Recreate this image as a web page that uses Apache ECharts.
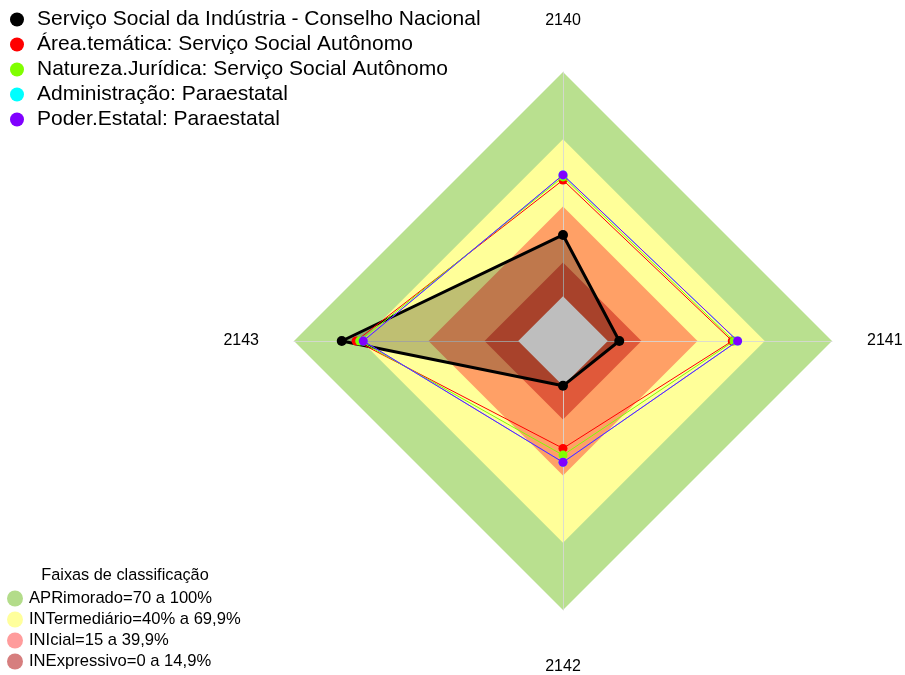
<!DOCTYPE html>
<html>
<head>
<meta charset="utf-8">
<script src="https://cdn.jsdelivr.net/npm/echarts@6/dist/echarts.min.js"></script>
<style>html,body{margin:0;padding:0;background:#fff}#c{width:905px;height:675px}</style>
</head>
<body>
<div id="c"></div>
<script>
// Axes (indicators), in clockwise order from the top
const indicatorNames = ['2140', '2141', '2142', '2143'];
const axisMin = -20;
const axisMax = 100;

// Series (values per indicator, same order as indicatorNames)
const seriesNames = [
  'Serviço Social da Indústria - Conselho Nacional',
  'Área.temática: Serviço Social Autônomo',
  'Natureza.Jurídica: Serviço Social Autônomo',
  'Administração: Paraestatal',
  'Poder.Estatal: Paraestatal'
];
const seriesColors = ['#000000', '#FF0000', '#80FF00', '#00FFFF', '#8000FF'];
const valuesConselho   = [27.3, 5.1, 0.0, 78.7];
const valuesArea       = [51.8, 55.5, 27.9, 72.3];
const valuesNatureza   = [53.2, 56.3, 30.9, 70.7];
const valuesAdmin      = [54.1, 57.9, 34.1, 69.1];
const valuesPoder      = [54.1, 57.9, 34.1, 69.1];
const seriesValues = [valuesConselho, valuesArea, valuesNatureza, valuesAdmin, valuesPoder];

// Classification bands (upper limit of each band)
const bandNames = ['APRimorado=70 a 100%', 'INTermediário=40% a 69,9%', 'INIcial=15 a 39,9%', 'INExpressivo=0 a 14,9%', 'centro'];
const bandLimits = [100, 70, 40, 15, 0];
const bandFill = ['#B9E08F', '#FFFF99', '#FFA066', '#E0593A', '#BEBEBE'];
const bandLegendColors = ['#B3DC8A', '#FFFF9C', '#FF9C9C', '#D67E7E'];
const bandLegendTitle = 'Faixas de classificação';

// ECharts places indicators counter-clockwise; reorder so they appear clockwise
const order = [0, 3, 2, 1];
const reorder = arr => order.map(i => arr[i]);

const FONT = 'Liberation Sans, Arial, sans-serif';

const series = [];
// bands (except the grey centre)
bandLimits.forEach((lim, k) => {
  if (k === bandLimits.length - 1) return;
  series.push({
    type: 'radar', z: 1, silent: true, symbol: 'none',
    lineStyle: { width: 0 },
    areaStyle: { color: bandFill[k], opacity: 1 },
    data: [{ name: bandNames[k], value: indicatorNames.map(() => lim),
             itemStyle: { color: bandFill[k] } }]
  });
});
// translucent fill of the main series
series.push({
  type: 'radar', z: 3, silent: true, symbol: 'none',
  lineStyle: { width: 0 },
  areaStyle: { color: 'rgba(0,0,0,0.25)', opacity: 1 },
  data: [{ name: seriesNames[0] + ' ', value: reorder(seriesValues[0]) }]
});
// grey centre
const last = bandLimits.length - 1;
series.push({
  type: 'radar', z: 4, silent: true, symbol: 'none',
  lineStyle: { width: 0 },
  areaStyle: { color: bandFill[last], opacity: 1 },
  data: [{ name: bandNames[last], value: indicatorNames.map(() => bandLimits[last]) }]
});
// lines
seriesValues.forEach((vals, k) => {
  series.push({
    type: 'radar', z: 5 + k, silent: true,
    symbol: 'circle', symbolSize: k === 0 ? 10 : 9,
    lineStyle: { width: k === 0 ? 3 : 1, color: seriesColors[k] },
    itemStyle: { color: seriesColors[k] },
    data: [{ name: seriesNames[k], value: reorder(vals) }]
  });
});

const chart = echarts.init(document.getElementById('c'), null, { renderer: 'canvas' });
chart.setOption({
  animation: false,
  backgroundColor: '#ffffff',
  title: {
    text: bandLegendTitle, left: 120, top: 563, textAlign: 'center',
    textStyle: { fontFamily: FONT, fontSize: 16.3, fontWeight: 'normal', color: '#000' }
  },
  radar: {
    z: 2,
    center: [563, 341],
    radius: 269,
    startAngle: 90,
    shape: 'polygon',
    splitNumber: 6,
    indicator: reorder(indicatorNames).map(n => ({ name: n, min: axisMin, max: axisMax })),
    axisNameGap: 35,
    axisName: {
      color: '#000', fontFamily: FONT, fontSize: 16,
      padding: [14, 0, 8, 0]
    },
    axisLine: { show: true, lineStyle: { color: 'rgba(215,215,215,0.85)', width: 1 } },
    splitLine: { show: false },
    splitArea: { show: false },
    axisTick: { show: false },
    axisLabel: { show: false }
  },
  legend: [
    {
      orient: 'vertical', left: 5, top: 4,
      icon: 'circle', itemWidth: 30, itemHeight: 14, itemGap: 4,
      selectedMode: false,
      textStyle: { fontFamily: FONT, fontSize: 21, lineHeight: 21, color: '#000' },
      data: seriesNames.map((n, k) => ({ name: n, itemStyle: { color: seriesColors[k], borderWidth: 0 } }))
    },
    {
      orient: 'vertical', left: 2, top: 585,
      icon: 'circle', itemWidth: 18, itemHeight: 16, itemGap: 4,
      selectedMode: false,
      textStyle: { fontFamily: FONT, fontSize: 16.6, lineHeight: 16, color: '#000' },
      data: bandLegendColors.map((c, k) => ({ name: bandNames[k], itemStyle: { color: c, borderWidth: 0 } }))
    }
  ],
  series: series
});
</script>
</body>
</html>
